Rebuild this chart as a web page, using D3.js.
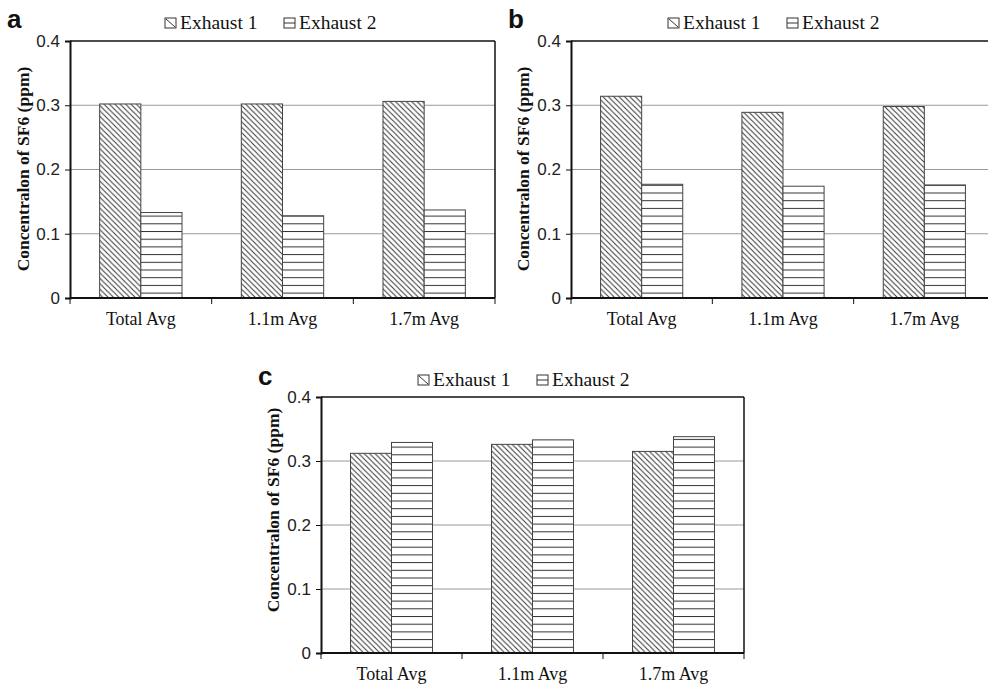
<!DOCTYPE html>
<html><head><meta charset="utf-8">
<script src="https://cdn.jsdelivr.net/npm/d3@7"></script>
<style>html,body{margin:0;padding:0;background:#fff;}svg{display:block;}</style>
</head><body>
<script>
const categories = ["Total Avg", "1.1m Avg", "1.7m Avg"];
const seriesNames = ["Exhaust 1", "Exhaust 2"];
const yTicks = [0, 0.1, 0.2, 0.3, 0.4];
const yLabel = "Concentralon of SF6 (ppm)";
const panelLetters = ["a", "b", "c"];
const panelA_ex1 = [0.302, 0.302, 0.306];
const panelA_ex2 = [0.133, 0.128, 0.137];
const panelB_ex1 = [0.314, 0.289, 0.298];
const panelB_ex2 = [0.177, 0.174, 0.176];
const panelC_ex1 = [0.312, 0.326, 0.315];
const panelC_ex2 = [0.329, 0.333, 0.338];

const W = 988, H = 685;
const svg = d3.select("body").append("svg").attr("width", W).attr("height", H);
const defs = svg.append("defs");
const p1 = defs.append("pattern").attr("id", "diag").attr("patternUnits", "userSpaceOnUse")
  .attr("width", 5.4).attr("height", 5.4);
p1.append("rect").attr("width", 5.4).attr("height", 5.4).attr("fill", "#fff");
p1.append("path").attr("d", "M-1,-1 L6.4,6.4 M-1,4.4 L1,6.4 M4.4,-1 L6.4,1")
  .attr("stroke", "#333").attr("stroke-width", 1);
const p2 = defs.append("pattern").attr("id", "horiz").attr("patternUnits", "userSpaceOnUse")
  .attr("width", 10).attr("height", 7.7);
p2.append("rect").attr("width", 10).attr("height", 7.7).attr("fill", "#fff");
p2.append("line").attr("x1", 0).attr("x2", 10).attr("y1", 0.5).attr("y2", 0.5)
  .attr("stroke", "#333").attr("stroke-width", 1);

const fills = ["url(#diag)", "url(#horiz)"];
const serif = "'Liberation Serif', 'Times New Roman', serif";
const sans = "'Liberation Sans', Arial, sans-serif";

function panel(cfg) {
  const {left, right, top, bottom, ex1, ex2, letter, letterX, letterY, legX, legY, ylabX, ylabY} = cfg;
  const g = svg.append("g");
  const y = d3.scaleLinear().domain([0, 0.4]).range([bottom, top]);
  const x0 = d3.scaleBand().domain(categories).range([left, right]).padding(0);
  const x1 = d3.scaleBand().domain(seriesNames).range([0, x0.bandwidth()]).paddingInner(0).paddingOuter(0.72);

  g.selectAll(".grid").data(yTicks.filter(t => t > 0 && t < 0.4)).join("line")
    .attr("x1", left).attr("x2", right)
    .attr("y1", d => y(d)).attr("y2", d => y(d))
    .attr("stroke", "#9a9a9a").attr("stroke-width", 1);

  const rows = categories.map((c, i) => ({c, vals: [ex1[i], ex2[i]]}));
  const grp = g.selectAll(".grp").data(rows).join("g")
    .attr("transform", d => `translate(${x0(d.c)},0)`);
  grp.selectAll("rect").data(d => d.vals.map((v, j) => ({v, s: seriesNames[j], j}))).join("rect")
    .attr("x", d => x1(d.s)).attr("width", x1.bandwidth())
    .attr("y", d => y(d.v)).attr("height", d => y(0) - y(d.v))
    .attr("fill", d => fills[d.j]).attr("stroke", "#444").attr("stroke-width", 1);

  g.append("line").attr("x1", left).attr("x2", right).attr("y1", top).attr("y2", top)
    .attr("stroke", "#111").attr("stroke-width", 1.5);
  g.append("line").attr("x1", right).attr("x2", right).attr("y1", top).attr("y2", bottom)
    .attr("stroke", "#111").attr("stroke-width", 1.5);

  const ya = d3.axisLeft(y).tickValues(yTicks).tickSize(5).tickPadding(5)
    .tickFormat(d => d === 0 ? "0" : d.toFixed(1));
  const yg = g.append("g").attr("transform", `translate(${left},0)`).call(ya);
  yg.select(".domain").attr("stroke", "#111").attr("stroke-width", 2);
  yg.selectAll(".tick line").attr("stroke", "#111");
  yg.selectAll(".tick text").attr("font-family", sans)
    .attr("font-size", 17).attr("fill", "#222");

  g.append("line").attr("x1", left).attr("x2", right).attr("y1", bottom).attr("y2", bottom)
    .attr("stroke", "#111").attr("stroke-width", 2);
  const bounds = categories.map(c => x0(c)).concat([x0(categories[categories.length - 1]) + x0.bandwidth()]);
  g.selectAll(".xt").data(bounds).join("line")
    .attr("x1", d => d).attr("x2", d => d).attr("y1", bottom).attr("y2", bottom + 6)
    .attr("stroke", "#111").attr("stroke-width", 1);
  g.selectAll(".xl").data(categories).join("text")
    .attr("x", d => x0(d) + x0.bandwidth() / 2).attr("y", bottom + 27)
    .attr("text-anchor", "middle")
    .attr("font-family", serif).attr("font-size", 18)
    .attr("fill", "#111").text(d => d);

  g.append("text").attr("transform", `translate(${ylabX},${ylabY}) rotate(-90)`)
    .attr("text-anchor", "middle")
    .attr("font-family", serif).attr("font-weight", "bold")
    .attr("font-size", 17.5).attr("fill", "#111").text(yLabel);

  g.append("text").attr("x", letterX).attr("y", letterY)
    .attr("font-family", sans).attr("font-weight", "bold")
    .attr("font-size", 26).attr("fill", "#111").text(letter);

  const lg = g.append("g").attr("transform", `translate(${legX},${legY})`);
  const items = lg.selectAll("g").data(seriesNames).join("g")
    .attr("transform", (d, i) => `translate(${i * 119},0)`);
  items.append("rect").attr("x", 0).attr("y", -11).attr("width", 11).attr("height", 10)
    .attr("fill", "#fff").attr("stroke", "#333").attr("stroke-width", 1);
  items.filter((d, i) => i === 0).append("line")
    .attr("x1", 1).attr("y1", -10).attr("x2", 10).attr("y2", -2).attr("stroke", "#333");
  items.filter((d, i) => i === 1).append("line")
    .attr("x1", 0).attr("y1", -6).attr("x2", 11).attr("y2", -6).attr("stroke", "#333");
  items.append("text").attr("x", 15).attr("y", 0)
    .attr("font-family", serif).attr("font-size", 19.5)
    .attr("fill", "#111").text(d => d);
}

panel({left: 70, right: 495, top: 41, bottom: 298, ex1: panelA_ex1, ex2: panelA_ex2,
  letter: panelLetters[0], letterX: 7, letterY: 28, legX: 165, legY: 29, ylabX: 29, ylabY: 169});
panel({left: 571, right: 995, top: 41, bottom: 298, ex1: panelB_ex1, ex2: panelB_ex2,
  letter: panelLetters[1], letterX: 508, letterY: 28, legX: 668, legY: 29, ylabX: 529, ylabY: 169});
panel({left: 321, right: 744, top: 397, bottom: 653, ex1: panelC_ex1, ex2: panelC_ex2,
  letter: panelLetters[2], letterX: 258, letterY: 385, legX: 418, legY: 386, ylabX: 279, ylabY: 510});
</script>
</body></html>
